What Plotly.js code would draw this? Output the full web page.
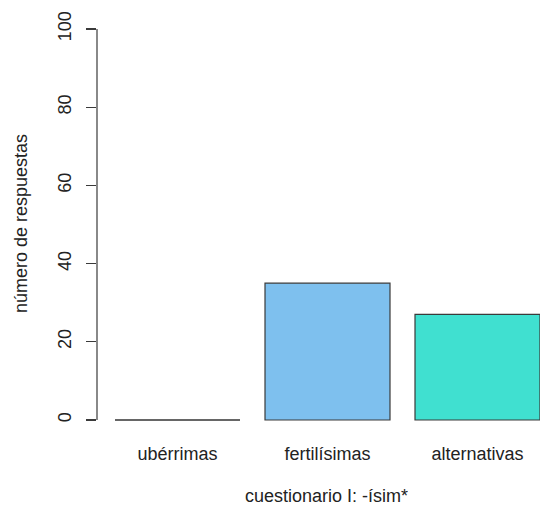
<!DOCTYPE html>
<html>
<head>
<meta charset="utf-8">
<script src="https://cdn.plot.ly/plotly-3.0.1.min.js"></script>
<style>html,body{margin:0;padding:0;background:#fff;}#chart{width:540px;height:506px;}</style>
</head>
<body>
<div id="chart"></div>
<script>
// Data
const categories = ["ubérrimas", "fertilísimas", "alternativas"];
const respuestas = [0, 35, 27];
const barColors = ["#7EC0EE", "#7EC0EE", "#40E0D0"];
const yTicks = [0, 20, 40, 60, 80, 100];
const xTitle = "cuestionario I: -ísim*";
const yTitle = "número de respuestas";

const FONT = "Liberation Sans, Arial, sans-serif";
const INK = "#222";
const LINE = "#3a3a3a";
const bargap = 25 / 150;
const halfBar = (1 - bargap) / 2;

const trace = {
  type: "bar",
  x: categories,
  y: respuestas,
  marker: { color: barColors, line: { color: LINE, width: 1.2 } },
  hoverinfo: "skip",
  showlegend: false
};

// zero-height bars are not drawn by plotly: draw their outline as a flat line
const shapes = [];
respuestas.forEach((v, i) => {
  if (v === 0) {
    shapes.push({
      type: "line", xref: "x", yref: "y",
      x0: i - halfBar, x1: i + halfBar, y0: v, y1: v,
      line: { color: "#555", width: 1.5 }
    });
  }
});
// y axis line spans only the tick range (R style)
shapes.push({
  type: "line", xref: "paper", yref: "y",
  x0: 0, x1: 0, y0: yTicks[0], y1: yTicks[yTicks.length - 1],
  line: { color: LINE, width: 1.2 }
});

const layout = {
  width: 540, height: 506,
  margin: { l: 97, r: 0, t: 13, b: 70 },
  paper_bgcolor: "#fff", plot_bgcolor: "#fff",
  bargap: bargap,
  font: { family: FONT, size: 18, color: INK },
  xaxis: {
    type: "category",
    range: [-0.5367, 2.4167],
    showline: false, showgrid: false, zeroline: false,
    ticks: "", tickfont: { family: FONT, size: 18, color: INK },
    ticklabelstandoff: 5,
    fixedrange: true
  },
  yaxis: {
    range: [-4.09, 104.09],
    tickvals: yTicks,
    ticktext: yTicks.map(String),
    tickangle: -90,
    ticks: "outside", ticklen: 10, tickwidth: 1.2, tickcolor: LINE,
    showline: false, showgrid: false, zeroline: false,
    tickfont: { family: FONT, size: 18, color: INK },
    ticklabelstandoff: 8,
    fixedrange: true
  },
  shapes: shapes,
  annotations: [
    {
      text: xTitle, xref: "paper", yref: "paper",
      x: (326 - 97) / 443, y: (436 - 496) / 423,
      xanchor: "center", yanchor: "middle", showarrow: false,
      height: 18, borderpad: 0,
      font: { family: FONT, size: 18, color: INK }
    },
    {
      text: yTitle, xref: "paper", yref: "paper",
      x: (21 - 97) / 443, y: (436 - 224) / 423,
      xanchor: "center", yanchor: "middle", showarrow: false, textangle: -90,
      font: { family: FONT, size: 18, color: INK }
    }
  ]
};

Plotly.newPlot("chart", [trace], layout, { displayModeBar: false, staticPlot: true });
</script>
</body>
</html>
